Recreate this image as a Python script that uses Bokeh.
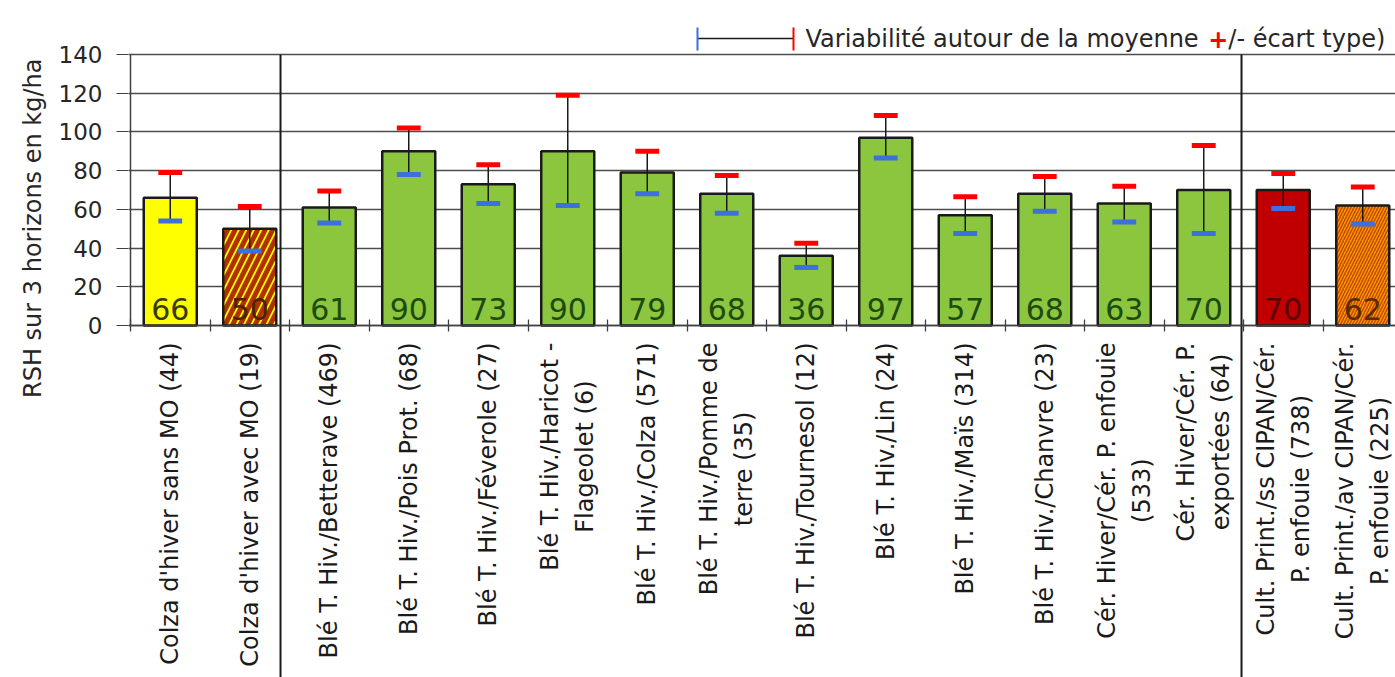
import math
from bokeh.plotting import figure
from bokeh.models import Range1d, FixedTicker, ColumnDataSource, Title
from bokeh.core.properties import value
from bokeh.embed import file_html
from bokeh.resources import INLINE

# ---------------- data ----------------
categories = [
    "Colza d'hiver sans MO (44)",
    "Colza d'hiver avec MO (19)",
    "Blé T. Hiv./Betterave (469)",
    "Blé T. Hiv./Pois Prot. (68)",
    "Blé T. Hiv./Féverole (27)",
    "Blé T. Hiv./Haricot -\nFlageolet (6)",
    "Blé T. Hiv./Colza (571)",
    "Blé T. Hiv./Pomme de\nterre (35)",
    "Blé T. Hiv./Tournesol (12)",
    "Blé T. Hiv./Lin (24)",
    "Blé T. Hiv./Maïs (314)",
    "Blé T. Hiv./Chanvre (23)",
    "Cér. Hiver/Cér. P. enfouie\n(533)",
    "Cér. Hiver/Cér. P.\nexportées (64)",
    "Cult. Print./ss CIPAN/Cér.\nP. enfouie (738)",
    "Cult. Print./av CIPAN/Cér.\nP. enfouie (225)",
]
means = [66, 50, 61, 90, 73, 90, 79, 68, 36, 97, 57, 68, 63, 70, 70, 62]
upper = [79, 61.5, 69.5, 102, 83, 119, 90, 77.5, 42.5, 108.5, 66.5, 77, 72, 93, 78.5, 71.5]
lower = [54, 38.5, 53, 78, 63, 62, 68, 58, 30, 86.5, 47.5, 59, 53.5, 47.5, 60.5, 52.5]
y_ticks = [0, 20, 40, 60, 80, 100, 120, 140]
y_title = "RSH sur 3 horizons en kg/ha"
legend_parts = ["Variabilité autour de la moyenne ", "+", "/- écart type)"]

GREEN = "#8cc63f"
bar_fill = ["#ffff00", "#ffff00"] + [GREEN] * 12 + ["#c00000", "#ff9a00"]
bar_hatch = [" ", "/"] + [" "] * 12 + [" ", "/"]
hatch_color = ["#000000", "#b03000"] + ["#000000"] * 12 + ["#000000", "#c04a00"]
hatch_scale = [12, 15] + [12] * 12 + [12, 6]
hatch_weight = [1, 5] + [1] * 12 + [1, 1.5]
label_color = ["#3a3a00", "#4a2200"] + ["#1e4a10"] * 12 + ["#5a0000", "#5a2a00"]
separators_at = [1.887, 13.975]   # category-unit positions of the group separators

# ---------------- geometry ----------------
FONT = value("DejaVu Sans")
W, H = 1395, 677
CAT_PX = 79.5                  # pixels per category
UNIT_PX = 271.0 / 140.0        # pixels per kg/ha
AX_X, AX_Y = 130, 325          # pixel position of data (0, 0)
LEFT_BORDER = 128

x_start = -(AX_X - LEFT_BORDER) / CAT_PX
x_end = (W - AX_X) / CAT_PX
y_end = AX_Y / UNIT_PX
y_start = -(H - AX_Y) / UNIT_PX

def dx(px):  # pixel -> data x
    return (px - AX_X) / CAT_PX

def dy(py):  # pixel -> data y
    return (AX_Y - py) / UNIT_PX

n = len(categories)
centers = [i + 0.5 for i in range(n)]

p = figure(width=W, height=H, output_backend="svg", toolbar_location=None,
           x_range=Range1d(x_start, x_end), y_range=Range1d(y_start, y_end),
           min_border_left=LEFT_BORDER, min_border_right=0,
           min_border_top=0, min_border_bottom=0)
p.outline_line_color = None
p.background_fill_color = "white"
p.border_fill_color = "white"

# y axis
yt = FixedTicker(ticks=y_ticks)
p.yaxis.ticker = yt
p.ygrid.ticker = yt
p.yaxis.axis_line_color = None
p.yaxis.major_tick_line_color = "#404040"
p.yaxis.major_tick_out = 12
p.yaxis.major_tick_in = 0
p.yaxis.minor_tick_line_color = None
p.yaxis.major_label_text_font = "DejaVu Sans"
p.yaxis.major_label_text_font_size = "23px"
p.yaxis.major_label_text_color = "#262626"
p.yaxis.major_label_standoff = 14
p.ygrid.grid_line_color = "#4d4d4d"
p.ygrid.grid_line_width = 1.3
p.xgrid.visible = False

# y title as a side title (top-aligned like the reference)
p.add_layout(Title(text=y_title, align="right", offset=58, standoff=18,
                   text_font="DejaVu Sans", text_font_size="24px",
                   text_font_style="normal", text_color="#262626"), "left")

# x axis at y = 0 with tick marks on category boundaries (no labels)
p.xaxis.fixed_location = 0
p.xaxis.ticker = FixedTicker(ticks=[], minor_ticks=list(range(n + 1)))
p.xaxis.minor_tick_in = 6
p.xaxis.minor_tick_out = 6
p.xaxis.minor_tick_line_color = "#404040"
p.xaxis.minor_tick_line_width = 1.3
p.xaxis.axis_line_color = "#404040"
p.xaxis.axis_line_width = 1.3

# y axis rule (0..140)
p.segment(x0=[0], y0=[0], x1=[0], y1=[y_ticks[-1]], line_color="#404040", line_width=1.5)

# bars
src = ColumnDataSource(dict(x=centers, top=means, fill=bar_fill, hatch=bar_hatch,
                            hcolor=hatch_color, hscale=hatch_scale, hweight=hatch_weight,
                            lab=[str(v) for v in means], lcol=label_color,
                            up=upper, lo=lower,
                            cl=[c - 0.15 for c in centers], cr=[c + 0.15 for c in centers],
                            cat=categories))
p.vbar(x="x", top="top", bottom=0, width=0.667, fill_color="fill", line_color="#1a1a1a",
       line_width=2.5, hatch_pattern="hatch", hatch_color="hcolor", hatch_scale="hscale",
       hatch_weight="hweight", source=src)

# value labels
p.text(x="x", y=dy(308), text="lab", text_color="lcol", text_font=FONT,
       text_font_size="30px", text_align="center", text_baseline="alphabetic", source=src)

# error bars
p.segment(x0="x", y0="lo", x1="x", y1="up", line_color="#1a1a1a", line_width=1.5, source=src)
p.segment(x0="cl", y0="up", x1="cr", y1="up", line_color="#ff0000", line_width=5, source=src)
p.segment(x0="cl", y0="lo", x1="cr", y1="lo", line_color="#3d6fdd", line_width=5, source=src)

# category labels (vertical)
p.text(x="x", y=dy(342), text="cat", angle=math.pi / 2, anchor="center_right",
       text_align="center", text_baseline="middle", text_font=FONT, text_font_size="24px",
       text_line_height=1.25, text_color="#1a1a1a", source=src)

# group separators
p.segment(x0=separators_at, y0=[140, 140], x1=separators_at, y1=[y_start, y_start],
          line_color="#1a1a1a", line_width=2)

# legend
ly = dy(38)
p.segment(x0=[dx(697)], y0=[ly], x1=[dx(793)], y1=[ly], line_color="#1a1a1a", line_width=1.5)
p.segment(x0=[dx(697)], y0=[dy(27)], x1=[dx(697)], y1=[dy(50)], line_color="#3d6fdd", line_width=2)
p.segment(x0=[dx(793)], y0=[dy(27)], x1=[dx(793)], y1=[dy(50)], line_color="#ff0000", line_width=2)
fs = 24
x0 = 805
w1 = 16.78 * fs
w2 = 0.838 * fs
p.text(x=[dx(x0)], y=[ly], text=[legend_parts[0]], text_font=FONT, text_font_size=f"{fs}px",
       text_baseline="middle", text_align="left", text_color="#262626")
p.text(x=[dx(x0 + w1)], y=[ly], text=[legend_parts[1]], text_font=FONT, text_font_size=f"{fs}px",
       text_baseline="middle", text_align="left", text_color="#ff0000", text_font_style="bold")
p.text(x=[dx(x0 + w1 + w2)], y=[ly], text=[legend_parts[2]], text_font=FONT, text_font_size=f"{fs}px",
       text_baseline="middle", text_align="left", text_color="#262626")

open("out.html", "w").write(file_html(p, INLINE))
